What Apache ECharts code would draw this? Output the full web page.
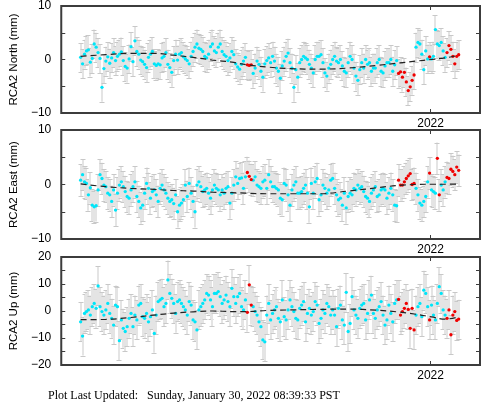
<!DOCTYPE html>
<html><head><meta charset="utf-8">
<script src="https://cdn.jsdelivr.net/npm/echarts@6/dist/echarts.min.js"></script>
<style>html,body{margin:0;padding:0;background:#fff;}#c{width:481px;height:404px;}</style>
</head><body><div id="c"></div>
<script>
// Days since 2021-01-01 (2022-01-01 = day 365)
const days = [
4,6,8,10,12,14,16,18,20,22,
24,26,28,30,32,34,36,38,40,42,
44,46,48,50,52,54,56,58,60,62,
64,66,68,70,72,74,76,78,80,82,
84,86,88,90,92,94,96,98,100,102,
104,106,108,110,112,114,116,118,120,122,
124,126,128,130,132,134,136,138,140,142,
144,146,148,150,152,154,156,158,160,162,
164,166,168,170,172,174,176,178,180,182,
184,186,188,190,192,194,196,198,200,202,
204,206,208,210,212,214,216,218,220,222,
224,226,228,230,232,234,236,238,240,242,
244,246,248,250,252,254,256,258,260,262,
264,266,268,270,272,274,276,278,280,282,
284,286,288,290,292,294,296,298,300,302,
304,306,308,310,312,314,316,318,320,322,
324,326,328,330,332,334,336,338,340,342,
344,346,348,350,352,354,356,358,360,362,
364,366,368,370,372,374,376,378,380,382,
384,386,388,390,392,394];

const north = [
0.4,-0.8,1.0,1.6,1.8,-0.5,0.2,2.9,2.3,1.3,
0.2,-5.2,-1.7,-0.3,0.5,-0.7,0.3,1.3,-0.2,0.6,
1.0,1.4,-0.2,-1.3,-1.6,0.1,2.4,-0.4,3.5,1.5,
1.0,-0.1,-0.4,-0.9,-1.5,0.4,1.0,1.5,-0.8,-1.1,
-0.8,-1.0,0.3,0.6,1.3,-0.9,-1.5,-2.4,-0.2,1.0,
-0.1,1.0,1.3,0.5,0.1,-0.2,-0.8,0.6,1.5,2.3,
2.9,2.1,1.9,1.5,0.6,0.3,1.0,2.4,2.9,1.6,
1.3,2.3,2.9,1.5,0.9,0.6,-0.2,0.3,1.5,0.9,
-0.8,-1.4,-1.8,-0.9,-0.3,0.4,-1.0,-1.1,-1.0,-2.6,
-1.6,-0.3,-0.9,-2.2,-3.3,-0.8,-0.2,0.3,-0.6,0.6,
-0.3,-1.6,-2.2,-3.5,-1.2,-0.3,0.6,1.2,-0.6,-1.6,
-5.2,-1.9,-3.3,-0.6,0.0,0.6,0.3,0.0,-0.9,-1.6,
-2.5,0.0,0.6,0.6,0.9,-0.6,-2.5,-3.1,-1.6,-0.9,
0.0,0.6,-0.3,-0.6,0.0,-1.2,-2.2,-2.5,-0.6,0.6,
0.0,-1.6,-3.1,-3.9,-1.9,-0.6,-1.6,0.0,-0.9,-0.6,
-2.2,-1.6,-1.6,-0.6,0.0,-2.2,-2.5,-1.2,-0.6,-0.6,
0.0,-2.2,-1.0,-0.2,-2.6,-2.3,-3.3,-2.4,-4.2,-5.8,
-5.1,-3.9,-2.9,2.3,3.2,2.9,1.0,-1.9,1.6,0.1,
0.5,0.1,0.6,5.6,2.9,2.6,3.2,1.6,0.4,1.3,
2.6,1.9,0.6,-0.8,0.6,0.9];

const east = [
0.8,1.8,0.5,0.2,-1.9,-0.6,-3.8,-4.1,-3.9,-1.0,
1.8,1.1,-0.1,-0.4,-1.6,-1.9,-3.1,-1.0,-4.7,-1.6,
-0.1,0.5,-0.4,-1.3,-2.2,-2.5,-1.0,-0.4,0.5,-2.2,
-3.1,-4.3,-3.8,-1.6,0.2,-0.7,-2.5,-1.3,-1.0,-1.9,
-3.1,-0.7,-0.1,-1.0,-1.6,-2.5,-3.1,-2.8,-3.5,-1.9,
-5.0,-3.8,-3.4,-2.8,-0.1,-2.2,0.2,-1.6,-3.1,-5.0,
-0.1,0.5,-0.4,-1.3,-1.0,-0.7,-1.6,-2.5,-1.0,-0.1,
-0.7,-1.0,-1.9,-1.0,-1.6,-0.7,-0.4,-3.4,-1.6,-0.1,
1.4,0.2,1.1,1.2,-0.7,1.4,2.2,1.5,0.9,0.8,
1.4,-0.1,-0.4,-0.7,0.5,0.8,-0.7,1.8,0.5,-0.4,
-0.4,-0.7,-1.0,-2.5,-2.8,0.2,-0.1,-1.9,-3.8,-1.0,
-0.1,0.5,-1.6,-1.6,-1.3,-0.7,-0.1,-1.6,-4.1,0.2,
-1.6,0.5,1.1,-2.8,-1.9,-0.1,-0.7,-1.6,-1.0,0.8,
1.1,-0.7,-1.9,-2.8,-2.5,-3.8,-1.6,-4.3,-2.2,-1.6,
-1.9,-0.7,-1.0,-0.1,-0.7,-0.4,-1.3,-2.2,-2.5,-3.1,
-1.6,-1.0,-0.4,-2.2,-1.9,-1.0,-0.7,-1.0,-2.5,-1.6,
-0.7,-1.9,-3.8,-3.9,0.8,-0.1,-0.1,0.5,1.1,1.6,
2.0,0.0,0.2,-0.7,-1.9,-3.4,-3.8,-3.1,-2.2,0.5,
2.1,-1.0,-1.3,-1.6,4.8,-1.9,-0.1,-1.0,0.5,1.3,
1.1,2.8,2.4,1.8,3.2,2.6];

const up = [
-4.0,-9.3,-0.9,-0.2,0.4,-1.5,1.6,2.8,1.0,9.3,
1.6,-0.2,-1.5,0.4,2.8,-0.9,-2.7,-5.2,2.2,1.6,
-11.0,-3.3,-6.4,-7.6,-5.8,-2.7,-0.9,-5.8,-1.5,-3.3,
2.2,2.8,-2.1,-2.7,-0.9,-4.0,-2.1,0.4,-8.3,-1.5,
3.5,4.1,4.7,1.6,2.8,11.5,6.5,4.7,2.8,-0.9,
3.5,4.1,2.8,1.6,0.4,-1.5,3.5,2.2,-3.3,-4.0,
-7.0,0.4,1.6,2.8,4.1,6.5,5.9,4.1,1.6,6.5,
6.5,7.2,5.3,2.8,4.1,5.9,3.5,1.6,8.4,5.3,
2.8,5.3,6.5,1.6,0.4,4.1,-0.5,9.7,2.2,1.6,
-0.2,-1.5,-4.0,-5.8,-10.7,-11.4,-1.5,2.8,-3.3,-0.9,
0.4,1.6,-2.7,-4.0,4.1,-2.1,-3.3,0.4,4.1,1.6,
-0.2,-2.7,-3.3,1.0,2.2,3.5,-4.0,-0.9,1.0,-1.5,
-0.2,3.5,2.2,-4.6,-2.7,0.4,-0.9,2.8,1.6,-1.5,
0.4,-1.5,-5.8,1.0,2.2,-3.3,-5.2,6.9,-7.6,-4.6,
5.3,0.4,-1.5,-2.7,1.0,2.2,2.8,-3.3,-0.9,4.1,
5.9,-0.9,-2.7,0.4,1.6,3.5,-1.5,-5.2,-3.3,2.2,
-0.9,-4.0,2.8,4.1,4.3,-1.5,-0.2,1.0,2.8,0.6,
-6.4,1.0,-7.0,-1.5,1.6,2.8,-2.1,7.7,6.5,1.6,
-3.3,2.2,-1.5,-3.3,2.8,9.0,6.5,0.4,-1.5,-2.7,
0.4,-8.8,-1.5,-0.2,-3.5,-3.0];

// flagged (red) day ranges
const redNorth = [[176,180],[332,348],[364,364],[382,394]];
const redEast  = [[176,180],[332,348],[364,364],[372,374],[382,394]];
const redUp    = [[176,180],[332,348],[364,364],[382,394]];

// one-sigma error bar half widths (mm)
const northSigma = 2.7;
const eastSigma = 2.9;
const upSigma = 7.2;

// model trend
const trendDays  = [4,30,56,80,100,120,140,160,176,196,220,250,280,310,330,350,366,380,394];
const northTrend = [0.6,0.9,1.15,1.15,0.8,0.4,-0.1,-0.5,-1.0,-1.4,-1.7,-1.8,-1.6,-1.1,-0.7,-0.3,0.0,0.3,0.8];
const eastTrend  = [0.1,-0.4,-0.7,-0.9,-1.1,-1.2,-1.4,-1.5,-1.6,-1.7,-1.7,-1.7,-1.2,-0.6,-0.2,0.0,0.05,0.05,0.1];
const upTrend    = [-3.2,-3.1,-2.4,-1.5,-0.8,-0.3,0.0,-0.2,-0.2,0.2,0.4,0.6,0.7,0.3,-0.3,-1.2,-2.2,-3.0,-2.2];

// axes
const xMin = -16, xMax = 416;
const yearTickDays = [365];
const yearTickLabels = ['2022'];
const titles = ['RCA2 North (mm)','RCA2 East (mm)','RCA2 Up (mm)'];
const yRanges = [[-10,10],[-10,10],[-20,20]];
const footer = 'Plot Last Updated:   Sunday, January 30, 2022 08:39:33 PST';

const panels = [
  {vals:north, sig:northSigma, red:redNorth, trend:northTrend},
  {vals:east, sig:eastSigma, red:redEast, trend:eastTrend},
  {vals:up, sig:upSigma, red:redUp, trend:upTrend}
];
const gridBoxes = [{top:5,height:108},{top:130,height:109},{top:257,height:108}];

const FONT = '"Liberation Sans", Arial, sans-serif';
const grid = [], xAxis = [], yAxis = [], series = [];
function isRed(d, ranges){ return ranges.some(r => d >= r[0] && d <= r[1]); }
function fmtY(v){ if (v % 10 !== 0) return ''; return v < 0 ? '\u2212' + (-v) : String(v); }

panels.forEach((p, g) => {
  grid.push({left:48, right:1, top:gridBoxes[g].top, height:gridBoxes[g].height,
    show:true, borderColor:'#3c3c3c', borderWidth:2, backgroundColor:'rgba(0,0,0,0)'});
  const tickStyle = {show:true, inside:true, length:4, lineStyle:{color:'#3c3c3c', width:1}};
  const noLine = {show:false, onZero:false};
  xAxis.push({type:'value', gridIndex:g, min:xMin, max:xMax, position:'bottom',
    axisLine:noLine, splitLine:{show:false},
    axisTick:Object.assign({customValues:yearTickDays}, tickStyle),
    axisLabel:{show:true, customValues:yearTickDays, margin:5,
      formatter:v => yearTickLabels[yearTickDays.indexOf(v)] || '',
      fontFamily:FONT, fontSize:12, color:'#000'}});
  xAxis.push({type:'value', gridIndex:g, min:xMin, max:xMax, position:'top',
    axisLine:noLine, splitLine:{show:false},
    axisTick:Object.assign({customValues:yearTickDays}, tickStyle),
    axisLabel:{show:false}});
  const yr = yRanges[g];
  yAxis.push({type:'value', gridIndex:g, min:yr[0], max:yr[1], interval:5, position:'left',
    axisLine:noLine, splitLine:{show:false}, axisTick:tickStyle,
    axisLabel:{formatter:fmtY, margin:10, fontFamily:FONT, fontSize:12, color:'#000'},
    name:titles[g], nameLocation:'middle', nameGap:34,
    nameTextStyle:{fontFamily:FONT, fontSize:11.5, color:'#000'}});
  yAxis.push({type:'value', gridIndex:g, min:yr[0], max:yr[1], interval:5, position:'right',
    axisLine:noLine, splitLine:{show:false}, axisTick:tickStyle, axisLabel:{show:false}});

  const xi = g*2, yi = g*2;
  const errData = days.map((d,i) => [d, p.vals[i]-p.sig, p.vals[i]+p.sig]);
  series.push({type:'custom', xAxisIndex:xi, yAxisIndex:yi, clip:true, silent:true,
    encode:{x:0, y:[1,2]}, data:errData, z:1,
    renderItem:(params, api) => {
      const x = api.value(0);
      const lo = api.coord([x, api.value(1)]);
      const hi = api.coord([x, api.value(2)]);
      const px = Math.round(lo[0]);
      const bar = {stroke:'#e4e4e4', lineWidth:2};
      const cap = {stroke:'#c8c8c8', lineWidth:1};
      const ylo = Math.round(lo[1]) + 0.5, yhi = Math.round(hi[1]) + 0.5;
      return {type:'group', children:[
        {type:'line', shape:{x1:px, y1:lo[1], x2:px, y2:hi[1]}, style:bar},
        {type:'line', shape:{x1:px-2.5, y1:ylo, x2:px+2.5, y2:ylo}, style:cap},
        {type:'line', shape:{x1:px-2.5, y1:yhi, x2:px+2.5, y2:yhi}, style:cap}
      ]};
    }});
  const cyan = [], red = [];
  days.forEach((d,i) => (isRed(d, p.red) ? red : cyan).push([d, p.vals[i]]));
  series.push({type:'scatter', xAxisIndex:xi, yAxisIndex:yi, data:cyan, symbol:'circle',
    symbolSize:3.3, itemStyle:{color:'#00e5f8', opacity:1}, z:3, silent:true});
  series.push({type:'scatter', xAxisIndex:xi, yAxisIndex:yi, data:red, symbol:'circle',
    symbolSize:3.3, itemStyle:{color:'#f00000', opacity:1}, z:3, silent:true});
  series.push({type:'line', xAxisIndex:xi, yAxisIndex:yi, data:trendDays.map((d,i)=>[d,p.trend[i]]),
    showSymbol:false, smooth:0.4, z:4, silent:true,
    lineStyle:{color:'#222', width:1.2, type:[6,4]}});
});

const chart = echarts.init(document.getElementById('c'), null, {renderer:'canvas'});
chart.setOption({
  animation:false, backgroundColor:'#fff',
  grid, xAxis, yAxis, series,
  graphic:[{type:'text', left:48, top:390,
    style:{text:footer, font:'12px "Liberation Serif", "Times New Roman", serif', fill:'#000'}}]
});
</script></body></html>
